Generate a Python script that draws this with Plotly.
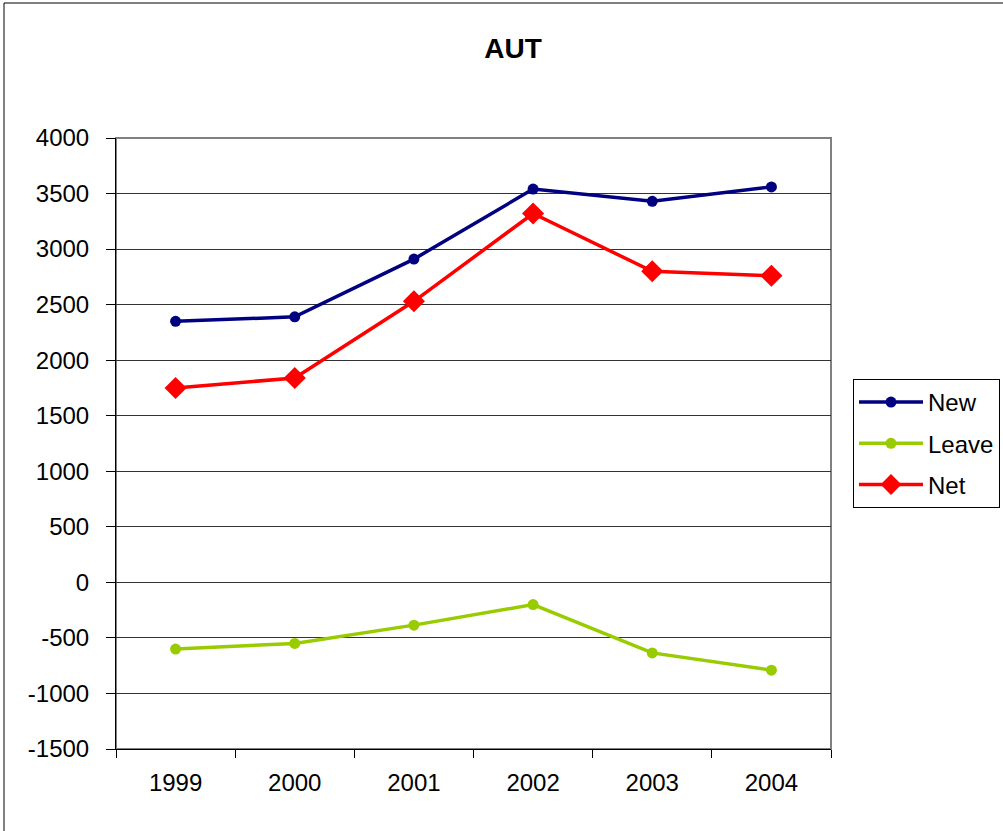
import plotly.graph_objects as go

years = ["1999", "2000", "2001", "2002", "2003", "2004"]
new_vals = [2350, 2390, 2910, 3540, 3430, 3560]
leave_vals = [-600, -550, -385, -200, -635, -790]
net_vals = [1750, 1840, 2530, 3320, 2800, 2760]
y_ticks = [-1500, -1000, -500, 0, 500, 1000, 1500, 2000, 2500, 3000, 3500, 4000]
y_tick_labels = [str(v).replace("\u2212", "-") for v in y_ticks]

fig = go.Figure()
fig.add_trace(go.Scatter(x=years, y=new_vals, name="New", mode="lines+markers",
                         line=dict(color="#000080", width=3.5),
                         marker=dict(symbol="circle", size=11, color="#000080"),
                         legendgroup="a"))
fig.add_trace(go.Scatter(x=years, y=leave_vals, name="Leave", mode="lines+markers",
                         line=dict(color="#99CC00", width=3.5),
                         marker=dict(symbol="circle", size=11, color="#99CC00"),
                         legendgroup="b"))
fig.add_trace(go.Scatter(x=years, y=net_vals, name="Net", mode="lines+markers",
                         line=dict(color="#FF0000", width=3.5),
                         marker=dict(symbol="diamond", size=17, color="#FF0000"),
                         legendgroup="c"))

L, R, T, B = 116, 831, 138, 749
W, H = 1003, 831
pw, ph = R - L, B - T

def px(x):
    return (x - L) / pw

def py(y):
    return (B - y) / ph

fig.update_layout(
    width=W, height=H,
    margin=dict(l=L, r=W - R, t=T, b=H - B, autoexpand=False),
    paper_bgcolor="white", plot_bgcolor="white",
    font=dict(family="Liberation Sans, Arial, sans-serif", size=24, color="black"),
    title=dict(text="<b>AUT</b>", x=513 / W, xanchor="center", y=1 - 48 / H, yanchor="middle",
               font=dict(size=28, color="black")),
    xaxis=dict(type="category", range=[-0.5, 5.5], showgrid=False, showline=True,
               linecolor="black", linewidth=1, ticks="outside", ticklen=8, tickcolor="black",
               tickson="boundaries", tickfont=dict(size=24), zeroline=False,
               ticklabelstandoff=12),
    yaxis=dict(range=[-1500, 4000], tickvals=y_ticks, ticktext=y_tick_labels,
               showgrid=True, gridcolor="#333333", gridwidth=1,
               showline=True, linecolor="black", linewidth=1, ticks="outside", ticklen=9,
               tickcolor="black", tickfont=dict(size=24), zeroline=False,
               ticklabelstandoff=12),
    legend=dict(x=px(853), y=py(379), xanchor="left", yanchor="top",
                bordercolor="black", borderwidth=1, bgcolor="white",
                font=dict(size=24), tracegroupgap=7, itemwidth=64),
    shapes=[
        dict(type="rect", xref="paper", yref="paper", x0=0, x1=1, y0=0, y1=1,
             line=dict(color="#808080", width=2), layer="below"),
        dict(type="rect", xref="paper", yref="paper", x0=px(4), x1=px(1010), y0=py(840), y1=py(3),
             line=dict(color="black", width=1)),
    ],
)

fig.write_html("out.html", config={"displayModeBar": False},
               post_script="document.body.style.margin='0';")
